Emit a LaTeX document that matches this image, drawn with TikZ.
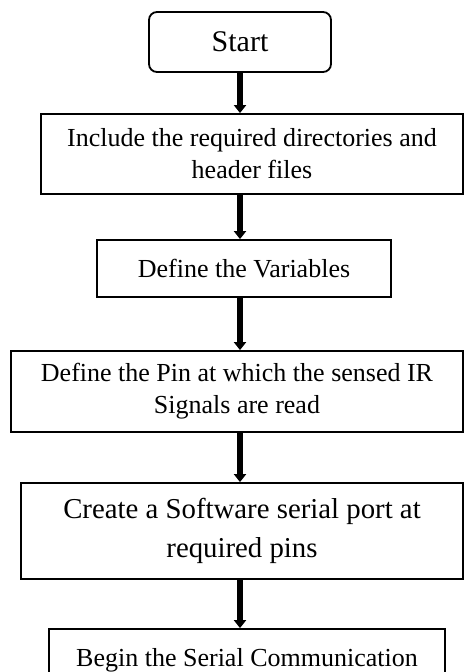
\documentclass[tikz,border=0pt]{standalone}
\usepackage{fontspec}
\setmainfont{Liberation Serif}
\usetikzlibrary{arrows.meta,positioning,calc}

\tikzset{
  startbox/.style={draw=black, line width=0.9pt, rounded corners=4pt, inner sep=0pt,
    font=\fontsize{15}{18}\selectfont},
  procbox/.style={draw=black, line width=0.9pt, inner sep=0pt, align=center,
    font=\fontsize{13}{16}\selectfont},
  flowarrow/.style={line width=2.6pt, -{Triangle[length=4pt,width=6pt]}}
}

\begin{document}
\begin{tikzpicture}[x=0.5pt, y=-0.5pt]
  \useasboundingbox (0,0) rectangle (464,672);
  \clip (0,0) rectangle (464,672);

  % Start (rounded box)
  \node[startbox, minimum width=91pt, minimum height=30pt] (start) at (240,42) {Start};

  % Process steps
  \node[procbox, minimum width=211pt, minimum height=40pt] (incl) at (252,154)
    {Include the required directories and\\header files};
  \node[procbox, minimum width=147pt, minimum height=28.5pt] (vars) at (244,268.5)
    {Define the Variables};
  \node[procbox, minimum width=226pt, minimum height=40.5pt] (pin) at (237,391.5)
    {Define the Pin at which the sensed IR\\Signals are read};
  \node[procbox, minimum width=221pt, minimum height=48pt,
    font=\fontsize{14.4}{19.5}\selectfont] (port) at (242,531)
    {Create a Software serial port at\\required pins};
  \node[procbox, minimum width=198pt, minimum height=31pt] (serial) at (247,660)
    {Begin the Serial Communication};

  % Arrows down the middle
  \draw[flowarrow] (start.south) -- (start.south |- incl.north);
  \draw[flowarrow] (start.south |- incl.south) -- (start.south |- vars.north);
  \draw[flowarrow] (start.south |- vars.south) -- (start.south |- pin.north);
  \draw[flowarrow] (start.south |- pin.south) -- (start.south |- port.north);
  \draw[flowarrow] (start.south |- port.south) -- (start.south |- serial.north);
\end{tikzpicture}
\end{document}
